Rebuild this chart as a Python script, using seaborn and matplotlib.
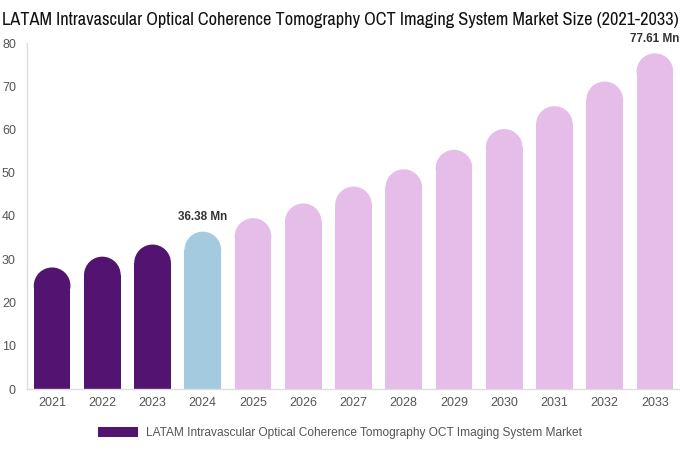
import matplotlib
matplotlib.use("Agg")
import matplotlib.pyplot as plt
import seaborn as sns
import pandas as pd
from matplotlib.patches import Ellipse, Patch
from matplotlib import font_manager

years = ["2021", "2022", "2023", "2024", "2025", "2026", "2027",
         "2028", "2029", "2030", "2031", "2032", "2033"]
values = [28.1, 30.6, 33.4, 36.38, 39.5, 42.9, 46.8, 50.8, 55.3, 60.1, 65.4, 71.1, 77.61]
bar_colors = ["#521470", "#521470", "#521470", "#A4CADF"] + ["#E6BCE8"] * 9
labels = {3: "36.38 Mn", 12: "77.61 Mn"}
title = "LATAM Intravascular Optical Coherence Tomography OCT Imaging System Market Size (2021-2033)"
legend_label = "LATAM Intravascular Optical Coherence Tomography OCT Imaging System Market"

sns.set_style("white")
plt.rcParams["font.family"] = ["Liberation Sans", "DejaVu Sans"]

df = pd.DataFrame({"year": years, "value": values})

fig = plt.figure(figsize=(6.8, 4.5), dpi=100)
W, H = 680, 450
ax = fig.add_axes([27 / W, (H - 389) / H, 653 / W, 346 / H])

sns.barplot(data=df, x="year", y="value", hue="year", palette=bar_colors,
            legend=False, width=0.73, ax=ax, saturation=1)
ax.set_ylim(0, 80)
ax.set_xlim(-0.5, len(years) - 0.5)

# rounded tops
x_per_px = (len(years)) / 653.0
y_per_px = 80.0 / 346.0
for p, c in zip(ax.patches, bar_colors):
    x0, w, h = p.get_x(), p.get_width(), p.get_height()
    rx = w / 2
    ry = (rx / x_per_px) * y_per_px
    p.set_height(h - ry)
    p.set_edgecolor("none")
    e = Ellipse((x0 + rx, h - ry), w, 2 * ry, facecolor=c, edgecolor="none")
    ax.add_patch(e)

for i, txt in labels.items():
    ax.text(i, values[i] + 2.0, txt, ha="center", va="bottom",
            fontsize=8.5, fontweight="bold", color="#333333")

ax.set_yticks(range(0, 81, 10))
ax.tick_params(axis="both", length=0, labelsize=9, labelcolor="#555555")
ax.tick_params(axis="y", pad=8)
ax.tick_params(axis="x", pad=6)
ax.set_xlabel("")
ax.set_ylabel("")
for s in ["top", "right"]:
    ax.spines[s].set_visible(False)
for s in ["left", "bottom"]:
    ax.spines[s].set_color("#DDDDDD")
    ax.spines[s].set_linewidth(1)

narrow = [f.name for f in font_manager.fontManager.ttflist if "Narrow" in f.name or "Condensed" in f.name]
if narrow:
    tfam = [narrow[0], "Liberation Sans", "DejaVu Sans"]
    tsize = 13.2
else:
    tfam = ["Liberation Sans", "DejaVu Sans"]
    tsize = 11.3

fig.text(0.5, (H - 20) / H, title, ha="center", va="center",
         fontsize=tsize, fontweight="bold", color="#111111", family=tfam)

handle = Patch(facecolor="#521470", edgecolor="none")
fig.legend([handle], [legend_label], loc="center", bbox_to_anchor=(340 / W, (H - 433) / H),
           frameon=False, fontsize=8.6, handlelength=3.35, handleheight=0.92,
           handletextpad=0.6, labelcolor="#555555")

fig.savefig("out.png", dpi=100)
